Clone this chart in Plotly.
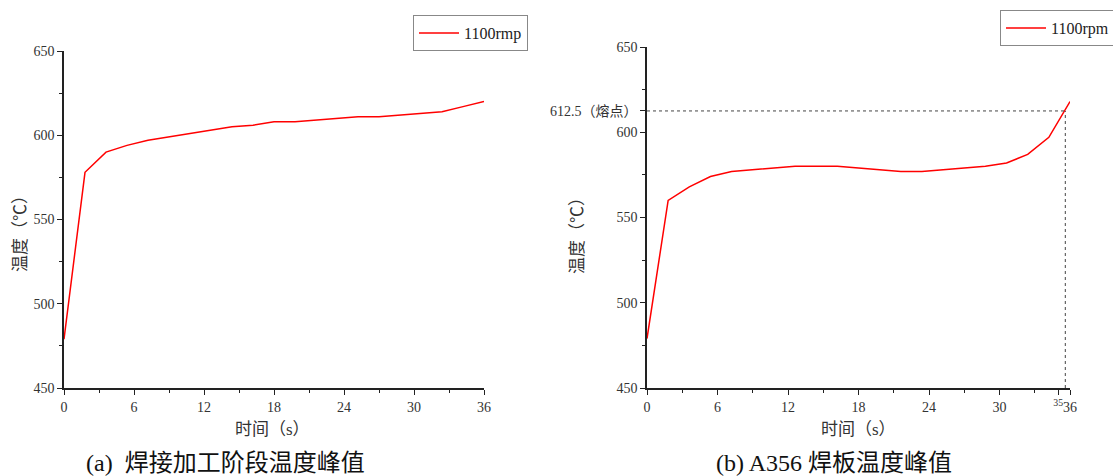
import plotly.graph_objects as go

# ---- data ----
time_a = [0, 1.8, 3.6, 5.4, 7.2, 9.0, 10.8, 12.6, 14.4, 16.2, 18.0, 19.8, 21.6, 23.4, 25.2, 27.0, 28.8, 30.6, 32.4, 34.2, 36.0]
temp_a = [479, 578, 590, 594, 597, 599, 601, 603, 605, 606, 608, 608, 609, 610, 611, 611, 612, 613, 614, 617, 620]

time_b = [0, 1.8, 3.6, 5.4, 7.2, 9.0, 10.8, 12.6, 14.4, 16.2, 18.0, 19.8, 21.6, 23.4, 25.2, 27.0, 28.8, 30.6, 32.4, 34.2, 36.0]
temp_b = [479, 560, 568, 574, 577, 578, 579, 580, 580, 580, 579, 578, 577, 577, 578, 579, 580, 582, 587, 597, 618]

series_a_name = "1100rmp"
series_b_name = "1100rpm"
melt_point = 612.5
melt_time = 35.6

xticks_a = [0, 6, 12, 18, 24, 30, 36]
xticks_b = [0, 6, 12, 18, 24, 30, 35, 36]
xticktext_b = ["0", "6", "12", "18", "24", "30", "<sup>35</sup>", "36"]
yticks_a = [450, 500, 550, 600, 650]
yticks_b = [450, 500, 550, 600, 612.5, 650]
yticktext_b = ["450", "500", "550", "600", "612.5（熔点）", "650"]

x_title = "时间（s）"
y_title = "温度（℃）"
caption_a = "(a)  焊接加工阶段温度峰值"
caption_b = "(b) A356 焊板温度峰值"

W, H = 1113, 476
FONT = "Liberation Serif, Noto Sans CJK SC, serif"

fig = go.Figure()
fig.add_trace(go.Scatter(x=time_a, y=temp_a, mode="lines", name=series_a_name,
                         line=dict(color="#ff0000", width=1.5), xaxis="x", yaxis="y", legend="legend"))
fig.add_trace(go.Scatter(x=time_b, y=temp_b, mode="lines", name=series_b_name,
                         line=dict(color="#ff0000", width=1.5), xaxis="x2", yaxis="y2", legend="legend2"))

def px_x(p):
    return p / W

def px_y(p):
    return 1 - p / H

common_ax = dict(showline=True, linecolor="#222", linewidth=1.5, ticks="outside", ticklen=5,
                 tickwidth=1.2, tickcolor="#222", showgrid=False, zeroline=False, mirror=False,
                 automargin=False, tickangle=0,
                 tickfont=dict(family=FONT, size=14, color="#333"))
minor = dict(ticks="outside", ticklen=3, tickcolor="#222", tickwidth=1, showgrid=False)

fig.update_layout(
    width=W, height=H, margin=dict(l=0, r=0, t=0, b=0, autoexpand=False),
    paper_bgcolor="white", plot_bgcolor="white",
    font=dict(family=FONT, color="#333"),
    showlegend=True,
    xaxis=dict(common_ax, domain=[px_x(64), px_x(484)], range=[0, 36], tickvals=xticks_a,
               minor=dict(minor, dtick=3), anchor="y"),
    yaxis=dict(common_ax, domain=[px_y(388), px_y(51)], range=[450, 650], tickvals=yticks_a,
               minor=dict(minor, dtick=25), anchor="x"),
    xaxis2=dict(common_ax, domain=[px_x(647), px_x(1070)], range=[0, 36], tickvals=xticks_b,
                ticktext=xticktext_b, minor=dict(minor, tickvals=[3, 9, 15, 21, 27, 33]), anchor="y2"),
    yaxis2=dict(common_ax, domain=[px_y(388), px_y(47)], range=[450, 650], tickvals=yticks_b,
                ticktext=yticktext_b, minor=dict(minor, dtick=25), anchor="x2"),
    legend=dict(x=px_x(413), y=px_y(15), xanchor="left", yanchor="top", bordercolor="#888", borderwidth=1,
                font=dict(family=FONT, size=16, color="#222"), bgcolor="white",
                tracegroupgap=0, itemwidth=40),
    legend2=dict(x=px_x(1000), y=px_y(10), xanchor="left", yanchor="top", bordercolor="#888", borderwidth=1,
                 font=dict(family=FONT, size=16, color="#222"), bgcolor="white",
                 tracegroupgap=0, itemwidth=40),
)

# melting-point guide lines
fig.add_shape(type="line", xref="x2", yref="y2", x0=0, x1=melt_time, y0=melt_point, y1=melt_point,
              line=dict(color="#444", width=1, dash="dot"))
fig.add_shape(type="line", xref="x2", yref="y2", x0=melt_time, x1=melt_time, y0=450, y1=melt_point,
              line=dict(color="#444", width=1, dash="dot"))

def label(text, x, y, size, angle=0, color="#333"):
    fig.add_annotation(text=text, x=px_x(x), y=px_y(y), xref="paper", yref="paper",
                       showarrow=False, textangle=angle, xanchor="center", yanchor="middle",
                       font=dict(family=FONT, size=size, color=color))

# axis titles
label(x_title, 272, 429, 17)
label(x_title, 858, 429, 17)
label(y_title, 20, 230, 17, angle=-90)
label(y_title, 577, 232, 17, angle=-90)

# captions
label(caption_a, 226, 463, 24, color="#111")
label(caption_b, 834, 463, 24, color="#111")

fig.write_html("out.html")
